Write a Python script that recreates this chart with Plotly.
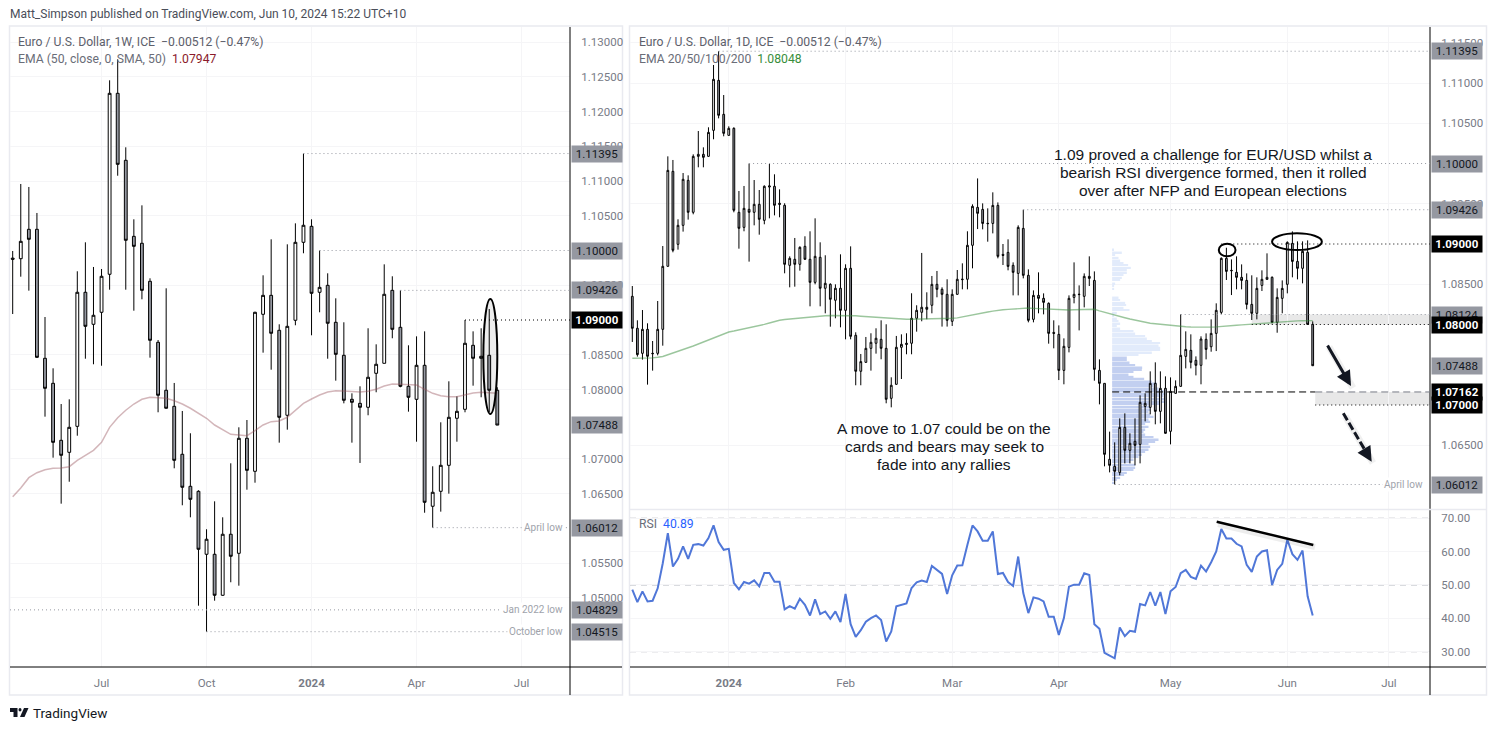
import plotly.graph_objects as go

W, H = 1496, 730
UI_FONT = "Roboto"
TXT_FONT = "Liberation Sans"

# ---- weekly panel data ----
weekly_index = list(range(61))
weekly_open = [1.09890,1.09882,1.10305,1.10305,1.08449,1.08089,1.07269,1.07096,1.07470,1.09399,1.08938,1.09111,1.09658,1.12262,1.11298,1.10204,1.10104,1.09557,1.08679,1.07989,1.07758,1.07068,1.06607,1.06535,1.05629,1.05629,1.05039,1.05917,1.05643,1.07298,1.06823,1.09082,1.09355,1.08852,1.07629,1.08996,1.10118,1.10348,1.09399,1.09499,1.08967,1.08492,1.07859,1.07801,1.07744,1.08233,1.08377,1.09427,1.08895,1.08046,1.07859,1.08348,1.06320,1.06535,1.06909,1.07586,1.07715,1.08636,1.08478,1.08492,1.07989]
weekly_high = [1.09993,1.10957,1.10914,1.10540,1.09043,1.08305,1.07791,1.07859,1.09701,1.10118,1.09763,1.09734,1.12449,1.12751,1.11485,1.10449,1.10650,1.09600,1.08712,1.09456,1.08094,1.07691,1.07370,1.06550,1.05989,1.06391,1.06161,1.06938,1.07456,1.07561,1.09119,1.09643,1.10161,1.08938,1.10089,1.10391,1.11395,1.10449,1.10000,1.09672,1.09312,1.08967,1.07945,1.08046,1.08881,1.08650,1.09801,1.09629,1.09426,1.08636,1.08765,1.08837,1.06895,1.07528,1.08118,1.07902,1.09000,1.08837,1.08881,1.09158,1.08032]
weekly_low = [1.09086,1.09623,1.09422,1.08453,1.07609,1.07019,1.06357,1.06673,1.07335,1.08443,1.08363,1.08342,1.09436,1.11076,1.09436,1.09134,1.09298,1.08458,1.07672,1.07727,1.06866,1.06334,1.06161,1.04889,1.04515,1.04961,1.05030,1.05226,1.05177,1.06558,1.06659,1.08530,1.08285,1.07235,1.07422,1.08924,1.09960,1.08780,1.09111,1.08443,1.08127,1.07801,1.07235,1.06943,1.07629,1.07960,1.08377,1.08737,1.08032,1.07681,1.07249,1.06227,1.06012,1.06242,1.06501,1.07249,1.07672,1.08055,1.07888,1.07676,1.07488]
weekly_close = [1.09875,1.10132,1.10161,1.08463,1.08017,1.07240,1.07053,1.07456,1.09399,1.08909,1.09068,1.09629,1.12262,1.11240,1.10147,1.10060,1.09427,1.08708,1.07917,1.07730,1.06981,1.06593,1.06420,1.05701,1.05845,1.05039,1.05917,1.05600,1.07298,1.06837,1.09111,1.09355,1.08809,1.07600,1.08909,1.10118,1.10363,1.09384,1.09470,1.08953,1.08506,1.07845,1.07816,1.07744,1.08176,1.08363,1.09370,1.08866,1.08046,1.07888,1.08348,1.06377,1.06521,1.06909,1.07600,1.07686,1.08665,1.08449,1.08449,1.07989,1.07488]
weekly_ema = [1.06458,1.06583,1.06731,1.06803,1.06846,1.06866,1.06871,1.06889,1.06981,1.07053,1.07125,1.07240,1.07456,1.07594,1.07701,1.07791,1.07859,1.07888,1.07882,1.07873,1.07839,1.07791,1.07730,1.07658,1.07586,1.07489,1.07427,1.07355,1.07345,1.07335,1.07407,1.07489,1.07537,1.07547,1.07600,1.07695,1.07801,1.07863,1.07921,1.07964,1.07983,1.07978,1.07968,1.07964,1.07974,1.08003,1.08050,1.08079,1.08075,1.08065,1.08065,1.08003,1.07945,1.07911,1.07896,1.07896,1.07921,1.07950,1.07960,1.07954,1.07947]
weekly_tick_pos = [11, 24, 37, 50, 63]
weekly_tick_text = ["Jul", "Oct", "<b>2024</b>", "Apr", "Jul"]
weekly_price_ticks = [1.13, 1.125, 1.12, 1.115, 1.11, 1.105, 1.095, 1.085, 1.08, 1.07, 1.065, 1.055, 1.05]
weekly_levels_gray = [1.11395, 1.10000, 1.09426, 1.07488, 1.06012, 1.04829, 1.04515]
weekly_levels_black = [1.09000]

# ---- daily panel data ----
daily_index = list(range(1, 136))
daily_open = [1.08350,1.07953,1.07642,1.07940,1.07642,1.07642,1.07940,1.08723,1.09903,1.08996,1.09232,1.09791,1.09394,1.10089,1.10114,1.10089,1.10412,1.11033,1.10611,1.10350,1.10437,1.09394,1.09207,1.09431,1.09394,1.09493,1.09294,1.09708,1.09717,1.09506,1.09481,1.08735,1.08810,1.08748,1.08971,1.08810,1.08524,1.08835,1.08450,1.08499,1.08301,1.08450,1.08176,1.08698,1.07866,1.07419,1.07530,1.07704,1.07767,1.07816,1.07704,1.07083,1.07257,1.07717,1.07767,1.07767,1.08077,1.08152,1.08214,1.08239,1.08499,1.08437,1.08375,1.08040,1.08375,1.08557,1.08562,1.08984,1.09455,1.09430,1.09252,1.09256,1.09480,1.08871,1.08896,1.08735,1.08635,1.09194,1.08611,1.08064,1.08362,1.08325,1.08263,1.07902,1.07878,1.07430,1.07716,1.08337,1.08371,1.08350,1.08598,1.08548,1.07430,1.07269,1.06325,1.06238,1.06163,1.06722,1.06437,1.06549,1.06511,1.06983,1.06971,1.07269,1.06921,1.07207,1.06673,1.07145,1.07232,1.07604,1.07679,1.07555,1.07493,1.07816,1.07724,1.07890,1.08151,1.08822,1.08673,1.08648,1.08586,1.08548,1.08250,1.08139,1.08486,1.08561,1.08586,1.08027,1.08325,1.08499,1.09008,1.08784,1.08698,1.08896,1.08002]
daily_high = [1.08478,1.08052,1.08180,1.08015,1.07795,1.08292,1.08975,1.10089,1.10044,1.09307,1.09882,1.09853,1.10114,1.10404,1.10201,1.10450,1.11224,1.11395,1.10851,1.10462,1.10450,1.09659,1.09721,1.10000,1.09795,1.09671,1.09729,1.09994,1.09866,1.09679,1.09506,1.08847,1.09075,1.08971,1.09096,1.09158,1.09319,1.09021,1.08860,1.08512,1.08499,1.08872,1.08748,1.08971,1.07903,1.07634,1.07845,1.07891,1.07953,1.08052,1.08003,1.07344,1.07858,1.07878,1.07891,1.08388,1.08239,1.08889,1.08400,1.08603,1.08665,1.08462,1.08562,1.08437,1.08677,1.08760,1.09158,1.09493,1.09815,1.09505,1.09443,1.09642,1.09517,1.09000,1.09058,1.08772,1.09232,1.09426,1.08685,1.08424,1.08648,1.08387,1.08275,1.08052,1.07989,1.07828,1.08362,1.08772,1.08486,1.08635,1.08847,1.08660,1.07567,1.07269,1.06669,1.06536,1.06834,1.06896,1.06648,1.06834,1.07120,1.07145,1.07418,1.07530,1.07418,1.07356,1.07343,1.07306,1.08126,1.07915,1.07878,1.07604,1.07853,1.07890,1.08064,1.08263,1.08834,1.08954,1.08809,1.08847,1.08747,1.08635,1.08611,1.08586,1.08673,1.08884,1.08598,1.08449,1.08548,1.09033,1.09157,1.09033,1.09033,1.09045,1.08039]
daily_low = [1.07783,1.07601,1.07564,1.07253,1.07427,1.07617,1.07737,1.08720,1.08897,1.08930,1.09154,1.09303,1.09369,1.09953,1.09953,1.10085,1.10301,1.10561,1.10338,1.10345,1.09394,1.08942,1.09158,1.08781,1.09232,1.09116,1.09245,1.09319,1.09356,1.09332,1.08636,1.08462,1.08470,1.08669,1.08802,1.08226,1.08499,1.08226,1.08139,1.07973,1.08077,1.07965,1.07816,1.07816,1.07245,1.07245,1.07525,1.07427,1.07638,1.07568,1.07021,1.06971,1.07252,1.07323,1.07630,1.07630,1.07911,1.08040,1.08065,1.08139,1.08338,1.07974,1.07974,1.07982,1.08370,1.08437,1.08437,1.08698,1.09186,1.09182,1.09029,1.09132,1.08822,1.08739,1.08673,1.08362,1.08362,1.08573,1.08027,1.08027,1.08139,1.08126,1.07762,1.07704,1.07310,1.07257,1.07654,1.08263,1.07927,1.08213,1.08478,1.07302,1.07008,1.06238,1.06163,1.06012,1.06126,1.06275,1.06275,1.06250,1.06275,1.06797,1.06884,1.06760,1.06772,1.06645,1.06511,1.07140,1.07228,1.07455,1.07455,1.07368,1.07257,1.07567,1.07662,1.07670,1.08130,1.08553,1.08366,1.08437,1.08437,1.08188,1.08056,1.08064,1.08416,1.08556,1.08014,1.07898,1.08139,1.08387,1.08586,1.08561,1.08511,1.07998,1.07488]
daily_close = [1.07953,1.07626,1.07940,1.07605,1.07638,1.07940,1.08723,1.09915,1.08922,1.09232,1.09804,1.09394,1.10089,1.10114,1.10077,1.10387,1.11046,1.10599,1.10375,1.10437,1.09419,1.09195,1.09443,1.09394,1.09493,1.09307,1.09717,1.09721,1.09481,1.09493,1.08748,1.08822,1.08748,1.08959,1.08810,1.08524,1.08847,1.08450,1.08512,1.08313,1.08450,1.08176,1.08698,1.07853,1.07419,1.07539,1.07704,1.07779,1.07829,1.07704,1.07071,1.07245,1.07717,1.07754,1.07754,1.08077,1.08176,1.08214,1.08189,1.08499,1.08437,1.08375,1.08052,1.08375,1.08562,1.08562,1.08984,1.09468,1.09381,1.09256,1.09256,1.09480,1.08847,1.08859,1.08722,1.08648,1.09207,1.08611,1.08052,1.08362,1.08325,1.08275,1.07890,1.07890,1.07430,1.07729,1.08325,1.08375,1.08375,1.08598,1.08573,1.07443,1.07269,1.06387,1.06250,1.06176,1.06722,1.06437,1.06524,1.06499,1.07033,1.07021,1.07269,1.06921,1.07207,1.06648,1.07170,1.07232,1.07617,1.07691,1.07530,1.07493,1.07820,1.07691,1.07890,1.08176,1.08822,1.08660,1.08669,1.08586,1.08548,1.08250,1.08139,1.08449,1.08561,1.08586,1.08027,1.08337,1.08449,1.09020,1.08784,1.08698,1.08909,1.08002,1.07488]
daily_ema = [1.07580,1.07580,1.07581,1.07584,1.07586,1.07593,1.07603,1.07624,1.07644,1.07665,1.07686,1.07708,1.07733,1.07758,1.07783,1.07807,1.07832,1.07857,1.07888,1.07907,1.07919,1.07932,1.07944,1.07957,1.07969,1.07985,1.08002,1.08019,1.08037,1.08053,1.08062,1.08068,1.08075,1.08086,1.08091,1.08097,1.08102,1.08106,1.08108,1.08111,1.08112,1.08113,1.08114,1.08113,1.08108,1.08103,1.08098,1.08093,1.08089,1.08081,1.08076,1.08072,1.08068,1.08066,1.08065,1.08065,1.08066,1.08066,1.08067,1.08068,1.08071,1.08075,1.08076,1.08077,1.08083,1.08096,1.08111,1.08125,1.08135,1.08145,1.08155,1.08166,1.08178,1.08183,1.08188,1.08193,1.08198,1.08203,1.08205,1.08201,1.08198,1.08194,1.08190,1.08186,1.08183,1.08180,1.08181,1.08184,1.08186,1.08189,1.08191,1.08189,1.08170,1.08152,1.08130,1.08114,1.08099,1.08084,1.08068,1.08053,1.08039,1.08025,1.08016,1.08009,1.08002,1.07995,1.07988,1.07983,1.07978,1.07973,1.07969,1.07967,1.07965,1.07965,1.07968,1.07971,1.07978,1.07981,1.07986,1.07991,1.07996,1.08001,1.08006,1.08012,1.08016,1.08020,1.08025,1.08030,1.08035,1.08039,1.08042,1.08045,1.08046,1.08047,1.08048]
daily_rsi = [48.6,44.9,48.1,45.1,45.3,49.0,56.5,65.5,55.5,57.8,61.5,57.8,62.0,62.2,61.8,64.0,67.8,62.8,60.5,60.8,50.6,48.7,50.9,50.4,51.4,49.6,53.6,53.6,51.0,51.0,42.7,43.7,42.9,45.9,44.1,40.9,45.7,41.3,42.1,39.9,42.1,38.9,47.3,38.3,34.5,36.5,39.0,40.1,40.9,39.5,33.1,36.1,43.6,44.1,44.5,49.1,50.8,51.3,50.9,55.7,54.5,53.3,47.3,52.9,55.8,55.9,62.0,67.8,66.0,63.2,63.2,66.0,53.3,53.6,50.9,49.7,58.5,47.6,41.6,46.3,45.9,45.1,40.5,40.5,35.1,40.1,49.5,50.1,50.1,53.5,53.0,38.3,36.9,29.7,28.9,28.1,37.3,34.7,36.3,36.0,44.3,43.9,47.9,43.8,47.9,41.3,48.1,49.4,53.5,54.5,52.4,51.8,55.8,54.0,56.8,60.0,66.7,63.9,63.9,62.3,61.5,56.0,53.9,58.5,60.0,60.4,50.0,54.5,56.3,63.5,59.2,57.5,60.3,46.6,40.89]
daily_tick_pos = [20, 43, 64, 85, 107, 130, 150]
daily_tick_text = ["<b>2024</b>", "Feb", "Mar", "Apr", "May", "Jun", "Jul"]
daily_price_ticks = [1.115, 1.11, 1.105, 1.095, 1.085, 1.065]
rsi_ticks = [30, 40, 50, 60, 70]
daily_levels_gray = [1.11395, 1.10000, 1.09426, 1.08124, 1.07488, 1.06012]
daily_levels_black = [1.09000, 1.08000, 1.07162, 1.07000]

# volume profile rows (price, relative size)
vp_light_price = [1.08934,1.08896,1.08863,1.08830,1.08797,1.08764,1.08739,1.08706,1.08677,1.08648,1.08615,1.08582,1.08553,1.08511,1.08478,1.08445,1.08337,1.08304,1.08271,1.08242,1.08209,1.08180,1.08147,1.08114,1.08076,1.08047,1.08014,1.07981,1.07952,1.07919,1.07890,1.07857,1.07828,1.07795,1.07770,1.07741,1.07712,1.07683,1.07654,1.07625]
vp_light_size = [5,29,9,19,24,34,48,56,44,44,34,29,24,9,6,6,19,24,39,42,34,52,14,6,14,19,24,14,24,64,69,99,104,119,144,139,144,144,119,79]
vp_dark_price = [1.07592,1.07559,1.07530,1.07497,1.07468,1.07435,1.07410,1.07381,1.07352,1.07327,1.07294,1.07269,1.07236,1.07207,1.07174,1.07145,1.07112,1.07079,1.07045,1.07012,1.06979,1.06946,1.06917,1.06884,1.06855,1.06822,1.06793,1.06764,1.06731,1.06698,1.06669,1.06635,1.06602,1.06573,1.06540,1.06515,1.06482,1.06449,1.06420,1.06387,1.06358,1.06325,1.06296,1.06259,1.06225,1.06192,1.06159,1.06130,1.06097,1.06068,1.06035]
vp_dark_size = [44,44,52,69,90,89,64,49,64,96,119,134,124,139,154,164,154,164,164,144,114,114,109,114,124,109,114,99,109,99,94,99,124,139,129,109,114,109,99,89,79,64,54,69,69,64,44,36,24,14,4]

# ---- styling constants ----
GRAY = "#9598a1"
INK = "#131722"
AXIS_TXT = "#787b86"
FRAME = "#e9eaf0"
GRID = "#f5f5f7"
DOT = "#9598a1"
DOTTED = "1px,3px"

def X(px): return px / W
def Y(py): return 1 - py / H

L_PMIN, L_PMAX = 1.04007, 1.13216
R_PMIN, R_PMAX = 1.05708, 1.11696
L_XMIN, L_XMAX = -0.334, 69.0
R_XMIN, R_XMAX = 0.547, 158.1
VP_BASE = 95.5
VP_SCALE = 15.225

fig = go.Figure()

candle_style = dict(
    increasing=dict(line=dict(color="#000000", width=1), fillcolor="#ffffff"),
    decreasing=dict(line=dict(color="#000000", width=1), fillcolor=GRAY),
    whiskerwidth=0, hoverinfo="skip", showlegend=False,
)

fig.add_trace(go.Candlestick(x=weekly_index, open=weekly_open, high=weekly_high, low=weekly_low,
                             close=weekly_close, xaxis="x", yaxis="y", **candle_style))
fig.add_trace(go.Scatter(x=weekly_index, y=weekly_ema, mode="lines", xaxis="x", yaxis="y",
                         line=dict(color="rgba(150,80,90,0.42)", width=1.5), hoverinfo="skip", showlegend=False))

fig.add_trace(go.Bar(y=vp_light_price, x=[v / VP_SCALE for v in vp_light_size], base=VP_BASE, orientation="h",
                     width=0.00021, marker=dict(color="#e2ebfb", line=dict(width=0)),
                     xaxis="x2", yaxis="y2", hoverinfo="skip", showlegend=False))
fig.add_trace(go.Bar(y=vp_dark_price, x=[v / VP_SCALE for v in vp_dark_size], base=VP_BASE, orientation="h",
                     width=0.00021, marker=dict(color="#c2cff0", line=dict(width=0)),
                     xaxis="x2", yaxis="y2", hoverinfo="skip", showlegend=False))
fig.add_trace(go.Candlestick(x=daily_index, open=daily_open, high=daily_high, low=daily_low,
                             close=daily_close, xaxis="x2", yaxis="y2", **candle_style))
fig.add_trace(go.Scatter(x=daily_index, y=daily_ema, mode="lines", xaxis="x2", yaxis="y2",
                         line=dict(color="rgba(56,142,60,0.5)", width=1.4), hoverinfo="skip", showlegend=False))
fig.add_trace(go.Scatter(x=daily_index, y=daily_rsi, mode="lines", xaxis="x3", yaxis="y3",
                         line=dict(color="#5077d8", width=2), hoverinfo="skip", showlegend=False))

# ---- shapes ----
shapes = []
def pline(x0, y0, x1, y1, color, width=1, dash="solid", layer="above"):
    shapes.append(dict(type="line", xref="paper", yref="paper", x0=X(x0), y0=Y(y0), x1=X(x1), y1=Y(y1),
                       line=dict(color=color, width=width, dash=dash), layer=layer))
def dline(ax, x0, x1, y, color=DOT, dash=DOTTED, width=1):
    xr = "x" if ax == 1 else "x2"
    yr = "y" if ax == 1 else "y2"
    shapes.append(dict(type="line", xref=xr, yref=yr, x0=x0, x1=x1, y0=y, y1=y,
                       line=dict(color=color, width=width, dash=dash), layer="above"))
def ellipse(ax, x0, x1, y0, y1, fill="rgba(0,0,0,0)", width=2):
    xr = "x" if ax == 1 else "x2"
    yr = "y" if ax == 1 else "y2"
    shapes.append(dict(type="circle", xref=xr, yref=yr, x0=x0, x1=x1, y0=y0, y1=y1,
                       line=dict(color="#000000", width=width), fillcolor=fill, layer="above"))

# frames & axis rules
shapes.append(dict(type="rect", xref="paper", yref="paper", x0=X(9.5), x1=X(622.5), y0=Y(26), y1=Y(695),
                   line=dict(color=FRAME, width=1.5), layer="below"))
shapes.append(dict(type="rect", xref="paper", yref="paper", x0=X(629.5), x1=X(1486.5), y0=Y(26), y1=Y(695),
                   line=dict(color=FRAME, width=1.5), layer="below"))
pline(570, 27, 570, 695, "#000000", 1)
pline(1430, 27, 1430, 695, "#000000", 1)
pline(10, 667, 622, 667, "#000000", 1)
pline(630, 667, 1486, 667, "#000000", 1)
pline(630, 509.5, 1486, 509.5, FRAME, 1.5)

# weekly levels
dline(1, 36, L_XMAX, 1.11395)
dline(1, 38, L_XMAX, 1.10000)
dline(1, 48, L_XMAX, 1.09426)
dline(1, 56, L_XMAX, 1.09000, "#000000")
dline(1, 52, 63.0, 1.06012)
dline(1, L_XMIN, 61.0, 1.04829)
dline(1, 24, 61.5, 1.04515)
dline(1, 67.5, L_XMAX, 1.06012)
ellipse(1, 58.27, 60.0, 1.07647, 1.09302, fill="rgba(0,0,0,0.07)", width=2)

# daily levels
shapes.append(dict(type="rect", xref="x2", yref="y2", x0=123, x1=R_XMAX, y0=1.08000, y1=1.08124,
                   fillcolor="#e8e8e8", line=dict(width=0), layer="below"))
shapes.append(dict(type="rect", xref="x2", yref="y2", x0=135.5, x1=R_XMAX, y0=1.07000, y1=1.07162,
                   fillcolor="#e8e8e8", line=dict(width=0), layer="below"))
dline(2, 18, R_XMAX, 1.11395)
dline(2, 24, R_XMAX, 1.10000)
dline(2, 78, R_XMAX, 1.09426)
dline(2, 117, R_XMAX, 1.09000, "#000000")
dline(2, 109, R_XMAX, 1.08124)
dline(2, 123, R_XMAX, 1.08000, "#000000")
dline(2, 95.5, 135.5, 1.07162, "#000000", "7px,4px")
dline(2, 135.5, R_XMAX, 1.07162, "#787b86", "7px,4px")
dline(2, 135.5, R_XMAX, 1.07000, "#000000")
dline(2, 96, 149, 1.06012)
ellipse(2, 116.5, 119.8, 1.08847, 1.09004)
ellipse(2, 127.0, 136.8, 1.08925, 1.09133)

# dashed arrow shaft, RSI trend line and their soft shadows
pline(1345.3, 416.3, 1373, 463, "rgba(0,0,0,0.06)", 7)
pline(1329, 347, 1353, 388, "rgba(0,0,0,0.06)", 7)
pline(1218, 524, 1315, 547, "rgba(0,0,0,0.07)", 6)
pline(1343.3, 413.3, 1367, 453.5, INK, 3, "8px,3px")
pline(1216.7, 521.7, 1313.3, 545, "#000000", 2.5)

# RSI bands
for level, col in [(70, "#d5d6da"), (50, "#b2b5be"), (30, "#d5d6da")]:
    shapes.append(dict(type="line", xref="x3", yref="y3", x0=R_XMIN, x1=R_XMAX, y0=level, y1=level,
                       line=dict(color=col, width=1, dash="6px,5px"), layer="below"))

# TradingView logo
shapes.append(dict(type="path", xref="paper", yref="paper", layer="above",
                   path=f"M {X(10)} {Y(708)} L {X(17.5)} {Y(708)} L {X(17.5)} {Y(717)} L {X(13.5)} {Y(717)} L {X(13.5)} {Y(712)} L {X(10)} {Y(712)} Z",
                   fillcolor=INK, line=dict(width=0)))
shapes.append(dict(type="circle", xref="paper", yref="paper", layer="above", x0=X(18.5), x1=X(21.5), y0=Y(711.5), y1=Y(708),
                   fillcolor=INK, line=dict(width=0)))
shapes.append(dict(type="path", xref="paper", yref="paper", layer="above",
                   path=f"M {X(24)} {Y(708)} L {X(28.5)} {Y(708)} L {X(24.5)} {Y(717)} L {X(20)} {Y(717)} Z",
                   fillcolor=INK, line=dict(width=0)))

# ---- annotations ----
ann = []
def txt(text, px, py, size=11.5, color=AXIS_TXT, anchor="left", family=UI_FONT):
    ann.append(dict(text=text, xref="paper", yref="paper", x=X(px), y=Y(py), xanchor=anchor, yanchor="middle",
                    showarrow=False, font=dict(family=family, size=size, color=color)))
def badge(value, px, yref, black=False):
    ann.append(dict(text=(f"<b>{value:.5f}</b>" if black else f"{value:.5f}"), xref="paper", yref=yref, x=X(px), y=value,
                    xanchor="left", yanchor="middle", showarrow=False, width=50, height=15.5, align="center",
                    bgcolor="#000000" if black else GRAY, borderpad=0,
                    font=dict(family=UI_FONT, size=11.5, color="#ffffff" if black else INK)))
def small_label(text, px, yval, yref):
    ann.append(dict(text=text, xref="paper", yref=yref, x=X(px), y=yval, xanchor="right", yanchor="middle",
                    showarrow=False, bgcolor="#ffffff", borderpad=1,
                    font=dict(family=UI_FONT, size=10, color="#a0a3ab")))

txt("Matt_Simpson published on TradingView.com, Jun 10, 2024 15:22 UTC+10", 8, 14, 12, "#4a4e59")
txt("Euro / U.S. Dollar, 1W, ICE  −0.00512 (−0.47%)", 16, 42, 12.2, "#5d606b")
txt("EMA (50, close, 0, SMA, 50)  <span style='color:#8b1a2b'>1.07947</span>", 16, 59, 12.2, "#6a6d78")
txt("Euro / U.S. Dollar, 1D, ICE  −0.00512 (−0.47%)", 637, 42, 12.2, "#5d606b")
txt("EMA 20/50/100/200  <span style='color:#388e3c'>1.08048</span>", 637, 59, 12.2, "#6a6d78")
txt("RSI  <span style='color:#2962ff'>40.89</span>", 637, 524, 12.2, "#6a6d78")
txt("TradingView", 31, 712.5, 13.5, INK)

for line, py in zip(["1.09 proved a challenge for EUR/USD whilst a",
                     "bearish RSI divergence formed, then it rolled",
                     "over after NFP and European elections"], [155, 173, 191]):
    txt(line, 1213, py, 15.5, INK, "center", TXT_FONT)
for line, py in zip(["A move to 1.07 could be on the", "cards and bears may seek to", "fade into any rallies"],
                    [428, 446, 464]):
    txt(line, 944, py, 15.5, INK, "center", TXT_FONT)

for v in weekly_levels_gray:
    badge(v, 571, "y")
for v in weekly_levels_black:
    badge(v, 571, "y", True)
for v in daily_levels_gray:
    badge(v, 1431, "y2")
for v in daily_levels_black:
    badge(v, 1431, "y2", True)

small_label("April low", 565, 1.06012, "y")
small_label("Jan 2022 low", 565, 1.04829, "y")
small_label("October low", 565, 1.04515, "y")
small_label("April low", 1425, 1.06012, "y2")

# arrows
ann.append(dict(text="", xref="paper", yref="paper", x=X(1351), y=Y(386), ax=-24.3, ay=-42, showarrow=True,
                arrowhead=2, arrowsize=1, arrowwidth=3, arrowcolor=INK))
ann.append(dict(text="", xref="paper", yref="paper", x=X(1371.7), y=Y(461.7), ax=-6, ay=-10, showarrow=True,
                arrowhead=2, arrowsize=1, arrowwidth=3, arrowcolor=INK))

tick_font = dict(family=UI_FONT, size=11.5, color=AXIS_TXT)
def xax(domain, rng, tickvals, ticktext, anchor, labels=True, **kw):
    return dict(domain=[X(domain[0]), X(domain[1])], range=rng, anchor=anchor, tickmode="array",
                tickvals=tickvals, ticktext=ticktext, showticklabels=labels, showgrid=True, gridcolor=GRID, gridwidth=1,
                zeroline=False, showline=False, ticks="outside" if labels else "", ticklen=5,
                tickcolor="rgba(0,0,0,0)", tickfont=tick_font, rangeslider=dict(visible=False), **kw)
def yax(domain, rng, ticks, fmt, anchor):
    return dict(domain=[Y(domain[1]), Y(domain[0])], range=rng, anchor=anchor, side="right", tickmode="array",
                tickvals=ticks, tickformat=fmt, showgrid=True, gridcolor=GRID, gridwidth=1, zeroline=False,
                showline=False, ticks="outside", ticklen=8, tickcolor="rgba(0,0,0,0)", tickfont=tick_font)

fig.update_layout(
    width=W, height=H, margin=dict(l=0, r=0, t=0, b=0, pad=0), autosize=False,
    paper_bgcolor="#ffffff", plot_bgcolor="#ffffff", showlegend=False, boxgap=0.5, barmode="overlay",
    hovermode=False, shapes=shapes, annotations=ann,
    xaxis=xax((10, 570), [L_XMIN, L_XMAX], weekly_tick_pos, weekly_tick_text, "y"),
    yaxis=yax((27, 667), [L_PMIN, L_PMAX], weekly_price_ticks, ".5f", "x"),
    xaxis2=xax((630, 1430), [R_XMIN, R_XMAX], daily_tick_pos, daily_tick_text, "y2", labels=False),
    yaxis2=yax((27, 509), [R_PMIN, R_PMAX], daily_price_ticks, ".5f", "x2"),
    xaxis3=xax((630, 1430), [R_XMIN, R_XMAX], daily_tick_pos, daily_tick_text, "y3"),
    yaxis3=yax((510, 667), [25.5, 72.4], rsi_ticks, ".2f", "x3"),
)

fig.write_html("out.html", post_script="document.body.style.margin='0';document.body.style.overflow='hidden';",
               config={"displayModeBar": False})
